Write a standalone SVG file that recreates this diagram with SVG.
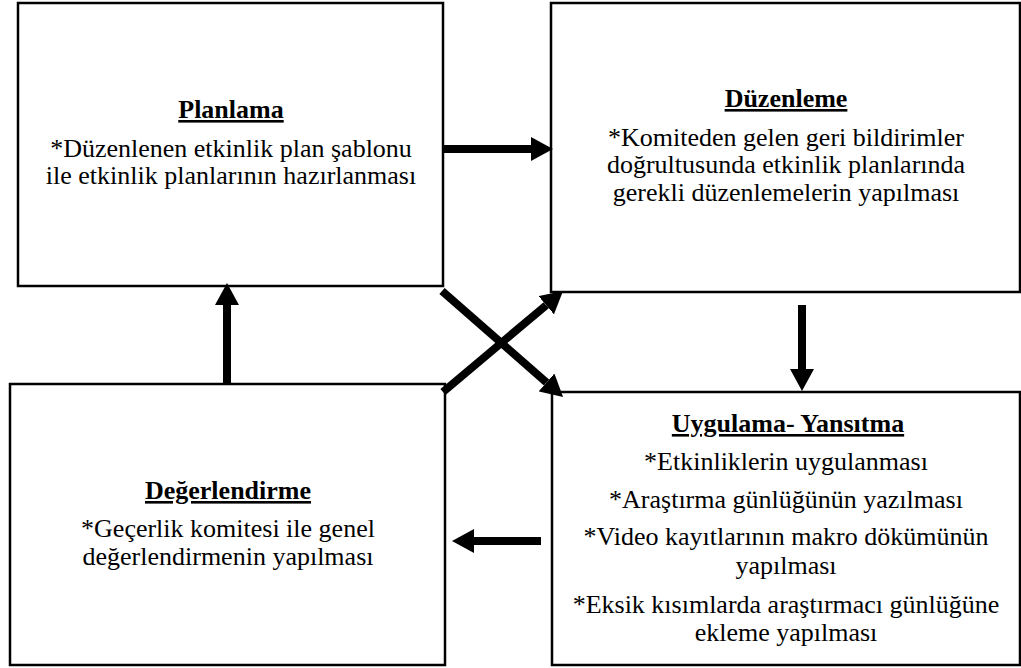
<svg xmlns="http://www.w3.org/2000/svg" width="1021" height="668" viewBox="0 0 1021 668">
  <style>
    .box { fill: #ffffff; stroke: #000000; stroke-width: 2.5; }
    text { font-family: 'Liberation Serif', 'Times New Roman', Times, 'DejaVu Serif', serif; font-size: 26px; fill: #000000; text-anchor: middle; }
    .h { font-weight: bold; text-decoration: underline; }
    .link { stroke: #000000; stroke-width: 8; fill: none; marker-end: url(#head); }
  </style>
  <defs>
    <marker id="head" viewBox="0 0 22 24" refX="0" refY="12" markerWidth="22" markerHeight="24" markerUnits="userSpaceOnUse" orient="auto">
      <path d="M0,0 L22,12 L0,24 Z" fill="#000000"/>
    </marker>
  </defs>
  <rect width="1021" height="668" fill="#ffffff"/>

  <g id="planlama">
    <rect class="box" x="18" y="3" width="425" height="283"/>
    <text class="h" x="231" y="118">Planlama</text>
    <text x="231" y="157">*Düzenlenen etkinlik plan şablonu</text>
    <text x="231" y="184">ile etkinlik planlarının hazırlanması</text>
  </g>

  <g id="duzenleme">
    <rect class="box" x="551" y="3" width="469" height="289"/>
    <text class="h" x="786" y="107">Düzenleme</text>
    <text x="786" y="146">*Komiteden gelen geri bildirimler</text>
    <text x="786" y="173">doğrultusunda etkinlik planlarında</text>
    <text x="786" y="201">gerekli düzenlemelerin yapılması</text>
  </g>

  <g id="degerlendirme">
    <rect class="box" x="10" y="384" width="435" height="281"/>
    <text class="h" x="228" y="499">Değerlendirme</text>
    <text x="228" y="537">*Geçerlik komitesi ile genel</text>
    <text x="228" y="565">değerlendirmenin yapılması</text>
  </g>

  <g id="uygulama">
    <rect class="box" x="552" y="392" width="468" height="273"/>
    <text class="h" x="788" y="432">Uygulama- Yansıtma</text>
    <text x="786" y="470">*Etkinliklerin uygulanması</text>
    <text x="786" y="508">*Araştırma günlüğünün yazılması</text>
    <text x="786" y="545">*Video kayıtlarının makro dökümünün</text>
    <text x="786" y="574">yapılması</text>
    <text x="786" y="613">*Eksik kısımlarda araştırmacı günlüğüne</text>
    <text x="786" y="641">ekleme yapılması</text>
  </g>

  <g id="connectors">
    <line class="link" x1="442" y1="149" x2="531" y2="149"/>
    <line class="link" x1="802" y1="305" x2="802" y2="369"/>
    <line class="link" x1="541" y1="541" x2="474" y2="541"/>
    <line class="link" x1="227" y1="384" x2="227" y2="305"/>
    <line class="link" x1="442" y1="291" x2="546.5" y2="382.5"/>
    <line class="link" x1="443" y1="392" x2="546.2" y2="305.2"/>
  </g>
</svg>
